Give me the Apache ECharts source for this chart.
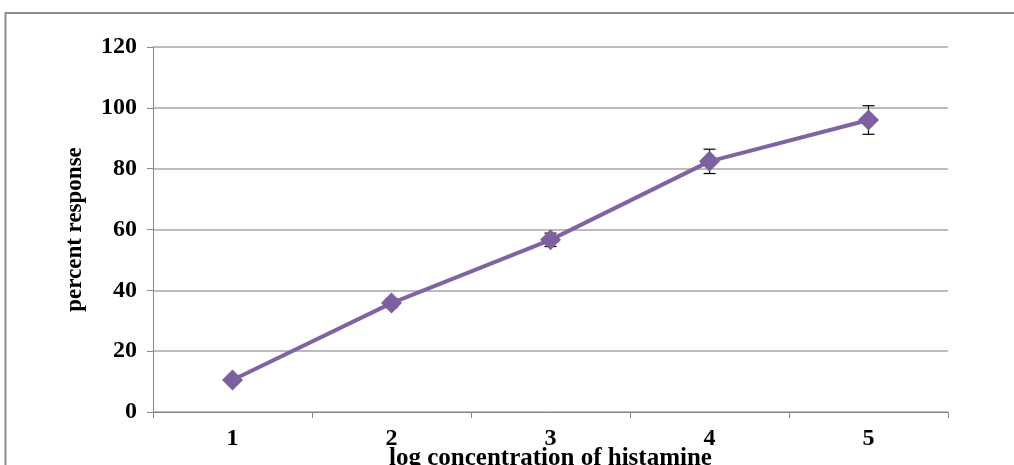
<!DOCTYPE html>
<html>
<head>
<meta charset="utf-8">
<script src="https://cdn.jsdelivr.net/npm/echarts@6/dist/echarts.min.js"></script>
<style>
html,body{margin:0;padding:0;background:#fff;overflow:hidden;}
#c{width:1014px;height:465px;}
</style>
</head>
<body>
<div id="c"></div>
<script>
const categories = ['1', '2', '3', '4', '5'];
const responses = [10.5, 35.8, 56.6, 82.4, 96.0];
const errors = [1.0, 1.5, 2.2, 4.0, 4.7];
const yTicks = [0, 20, 40, 60, 80, 100, 120];

const font = 'Liberation Serif';
const chart = echarts.init(document.getElementById('c'));
chart.setOption({
  animation: false,
  backgroundColor: '#fff',
  graphic: [{
    type: 'rect', z: 0,
    shape: { x: 5.5, y: 13, width: 1200, height: 600 },
    style: { fill: 'none', stroke: '#8c8c8c', lineWidth: 2 }
  }],
  grid: { left: 153, right: 66, top: 47, bottom: 53, outerBoundsMode: 'none', containLabel: false },
  xAxis: {
    type: 'category',
    data: categories,
    boundaryGap: true,
    name: 'log concentration of histamine',
    nameLocation: 'middle',
    nameGap: 34,
    nameMoveOverlap: false,
    nameTextStyle: { fontFamily: font, fontWeight: 'bold', fontSize: 25, color: '#000' },
    axisLine: { lineStyle: { color: '#868686', width: 1 } },
    axisTick: { show: true, alignWithLabel: false, length: 6, lineStyle: { color: '#868686' } },
    axisLabel: { fontFamily: font, fontWeight: 'bold', fontSize: 24, color: '#000', margin: 15 }
  },
  yAxis: {
    type: 'value',
    min: 0, max: 120, interval: 20,
    name: 'percent response',
    nameLocation: 'middle',
    nameGap: 66,
    nameMoveOverlap: false,
    nameRotate: 90,
    nameTextStyle: { fontFamily: font, fontWeight: 'bold', fontSize: 23, color: '#000' },
    axisLine: { show: true, lineStyle: { color: '#868686', width: 1 } },
    axisTick: { show: true, length: 6, lineStyle: { color: '#868686' } },
    axisLabel: {
      fontFamily: font, fontWeight: 'bold', fontSize: 24, color: '#000', margin: 16,
      formatter: v => yTicks.includes(v) ? String(v) : ''
    },
    splitLine: { lineStyle: { color: '#a6a6a6', width: 1.5 } }
  },
  series: [
    {
      type: 'custom',
      z: 1,
      data: categories.map((c, i) => [i, responses[i] - errors[i], responses[i] + errors[i]]),
      renderItem: function (params, api) {
        const x = api.value(0);
        const lo = api.coord([x, api.value(1)]);
        const hi = api.coord([x, api.value(2)]);
        const hw = 6;
        const st = { stroke: '#000', lineWidth: 1.2 };
        return {
          type: 'group',
          children: [
            { type: 'line', shape: { x1: lo[0], y1: lo[1], x2: hi[0], y2: hi[1] }, style: st },
            { type: 'line', shape: { x1: lo[0] - hw, y1: lo[1], x2: lo[0] + hw, y2: lo[1] }, style: st },
            { type: 'line', shape: { x1: hi[0] - hw, y1: hi[1], x2: hi[0] + hw, y2: hi[1] }, style: st }
          ]
        };
      }
    },
    {
      type: 'line',
      z: 3,
      data: responses,
      symbol: 'diamond',
      symbolSize: 21,
      lineStyle: { color: '#8064A2', width: 4 },
      itemStyle: { color: '#7d60a0' }
    }
  ]
});
</script>
</body>
</html>
